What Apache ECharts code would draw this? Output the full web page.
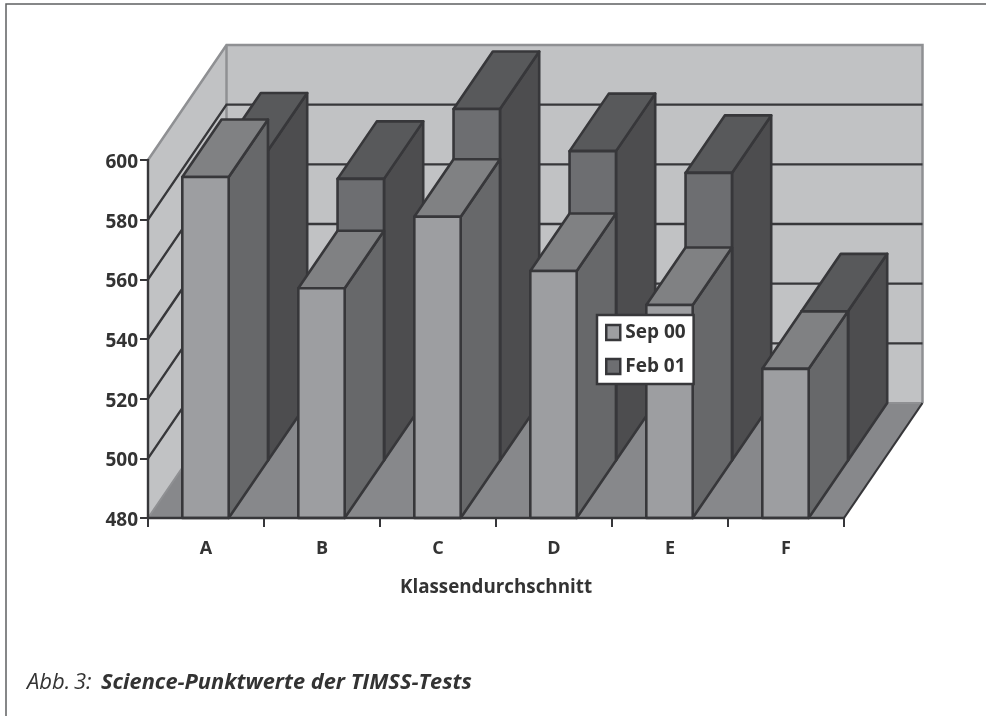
<!DOCTYPE html>
<html>
<head>
<meta charset="utf-8">
<title>TIMSS</title>
<script src="https://cdn.jsdelivr.net/npm/echarts@6/dist/echarts.min.js"></script>
<style>
html,body{margin:0;padding:0;background:#fff}
#main{width:986px;height:716px}
</style>
</head>
<body>
<div id="main"></div>
<script>
var categories = ['A', 'B', 'C', 'D', 'E', 'F'];
var sepValues = [594.3, 557, 581, 562.8, 551.4, 530];
var febValues = [583.9, 574.4, 597.8, 583.7, 576.4, 530];
var yTicks = [480, 500, 520, 540, 560, 580, 600];

// Tiefe des 3D-Raums in Pixel
var depthX = 78.5;
var depthY = -115;
var ink = '#37373a';
var wallEdge = '#8f9093';
var font = '"Open Sans"';

function poly(points, fill, stroke, width) {
    return {
        type: 'polygon',
        shape: { points: points },
        style: { fill: fill, stroke: stroke, lineWidth: width, lineJoin: 'round' }
    };
}
function line(points, stroke, width) {
    return {
        type: 'polyline',
        shape: { points: points },
        style: { fill: null, stroke: stroke, lineWidth: width }
    };
}

function renderWalls(params, api) {
    var r = params.coordSys;
    var x0 = r.x, x1 = r.x + r.width, yT = r.y, yB = r.y + r.height;
    return {
        type: 'group',
        children: [
            poly([[x0, yT], [x0 + depthX, yT + depthY], [x0 + depthX, yB + depthY], [x0, yB]], '#c1c2c4', null, 0),
            poly([[x0 + depthX, yT + depthY], [x1 + depthX, yT + depthY], [x1 + depthX, yB + depthY], [x0 + depthX, yB + depthY]], '#c1c2c4', null, 0),
            poly([[x0, yB], [x0 + depthX, yB + depthY], [x1 + depthX, yB + depthY], [x1, yB]], '#87888b', null, 0),
            line([[x0, yT], [x0 + depthX, yT + depthY], [x1 + depthX, yT + depthY], [x1 + depthX, yB + depthY]], wallEdge, 2.5),
            line([[x0 + depthX, yT + depthY], [x0 + depthX, yB + depthY]], wallEdge, 2.5),
            line([[x0, yB], [x0 + depthX, yB + depthY], [x1 + depthX, yB + depthY]], wallEdge, 2),
            line([[x1, yB], [x1 + depthX, yB + depthY]], ink, 2.2)
        ]
    };
}

function renderGrid(params, api) {
    var r = params.coordSys;
    var y = api.coord([0, api.value(0)])[1];
    var x0 = r.x;
    return line([[x0, y], [x0 + depthX, y + depthY], [r.x + r.width + depthX, y + depthY]], ink, 2.4);
}

// row: 0 = vorne (Sep 00), 1 = hinten (Feb 01)
function barRenderer(row, frontFill, sideFill, topFill) {
    return function (params, api) {
        var top = api.coord([api.value(0), api.value(1)]);
        var base = api.coord([api.value(0), yTicks[0]]);
        var w = api.size([1, 0])[0] * 0.4;
        var ox = row * depthX / 2, oy = row * depthY / 2;
        var dx = depthX / 2, dy = depthY / 2;
        var xl = top[0] - w / 2 - 0.5 + ox, xr = xl + w;
        var yt = top[1] + oy, yb = base[1] + oy;
        return {
            type: 'group',
            children: [
                poly([[xr, yt], [xr + dx, yt + dy], [xr + dx, yb + dy], [xr, yb]], sideFill, ink, 2.6),
                poly([[xl, yt], [xl + dx, yt + dy], [xr + dx, yt + dy], [xr, yt]], topFill, ink, 2.6),
                poly([[xl, yt], [xr, yt], [xr, yb], [xl, yb]], frontFill, ink, 2.6)
            ]
        };
    };
}

var chart = echarts.init(document.getElementById('main'));
var option = {
    animation: false,
    backgroundColor: '#fff',
    textStyle: { fontFamily: font },
    grid: { left: 148, right: 142, top: 160, bottom: 198 },
    legend: {
        data: ['Sep 00', 'Feb 01'],
        orient: 'vertical',
        left: 597,
        top: 315,
        padding: [8, 8, 8, 8],
        itemGap: 15,
        itemWidth: 14,
        itemHeight: 15,
        icon: 'rect',
        backgroundColor: '#fff',
        borderColor: ink,
        borderWidth: 2.5,
        z: 30,
        selectedMode: false,
        itemStyle: { borderColor: ink, borderWidth: 2.5 },
        textStyle: { fontFamily: font, fontSize: 19, fontWeight: 'bold', color: '#333' }
    },
    xAxis: {
        type: 'category',
        data: categories,
        z: 10,
        axisLine: { lineStyle: { color: ink, width: 2.4 } },
        axisTick: { show: true, alignWithLabel: false, length: 9, lineStyle: { color: ink, width: 2 } },
        axisLabel: { fontFamily: font, fontSize: 18, fontWeight: 'bold', color: '#333', margin: 22 },
        name: 'Klassendurchschnitt',
        nameLocation: 'middle',
        nameGap: 60,
        nameTextStyle: { fontFamily: font, fontSize: 18.8, fontWeight: 'bold', color: '#333' }
    },
    yAxis: {
        type: 'value',
        min: yTicks[0],
        max: yTicks[yTicks.length - 1],
        interval: yTicks[1] - yTicks[0],
        z: 10,
        splitLine: { show: false },
        axisLine: { show: true, lineStyle: { color: ink, width: 2.4 } },
        axisTick: { show: true, length: 8, lineStyle: { color: ink, width: 2 } },
        axisLabel: { fontFamily: font, fontSize: 19, fontWeight: 'bold', color: '#333', margin: 10, verticalAlign: 'top', lineHeight: 5 }
    },
    graphic: [
        { type: 'polyline', z: 40, shape: { points: [[6, 716], [6, 4], [986, 4]] }, style: { fill: null, stroke: '#5f6062', lineWidth: 1.5 } },
        { type: 'text', z: 40, left: 27, top: 672, style: { text: 'Abb.\u20093:', fontFamily: font, fontSize: 22, fontStyle: 'italic', fill: '#333' } },
        { type: 'text', z: 40, left: 101, top: 672, style: { text: 'Science-Punktwerte der TIMSS-Tests', fontFamily: font, fontSize: 21.8, fontStyle: 'italic', fontWeight: 'bold', fill: '#333' } }
    ],
    series: [
        { type: 'custom', name: 'walls', z: 1, silent: true, renderItem: renderWalls, data: [[0]] },
        {
            type: 'custom', name: 'grid', z: 2, silent: true, renderItem: renderGrid,
            data: yTicks.slice(1, -1).map(function (t) { return [t]; })
        },
        {
            type: 'custom', name: 'Feb 01', z: 3, renderItem: barRenderer(1, '#6d6e71', '#4d4d4f', '#58595b'),
            itemStyle: { color: '#6d6e71' }, encode: { x: 0, y: 1 },
            data: febValues.map(function (v, i) { return [i, v]; })
        },
        {
            type: 'custom', name: 'Sep 00', z: 4, renderItem: barRenderer(0, '#9d9ea1', '#67686a', '#808183'),
            itemStyle: { color: '#9d9ea1' }, encode: { x: 0, y: 1 },
            data: sepValues.map(function (v, i) { return [i, v]; })
        }
    ]
};
chart.setOption(option);
window.onresize = function () {
    chart.resize();
};
</script>
</body>
</html>
